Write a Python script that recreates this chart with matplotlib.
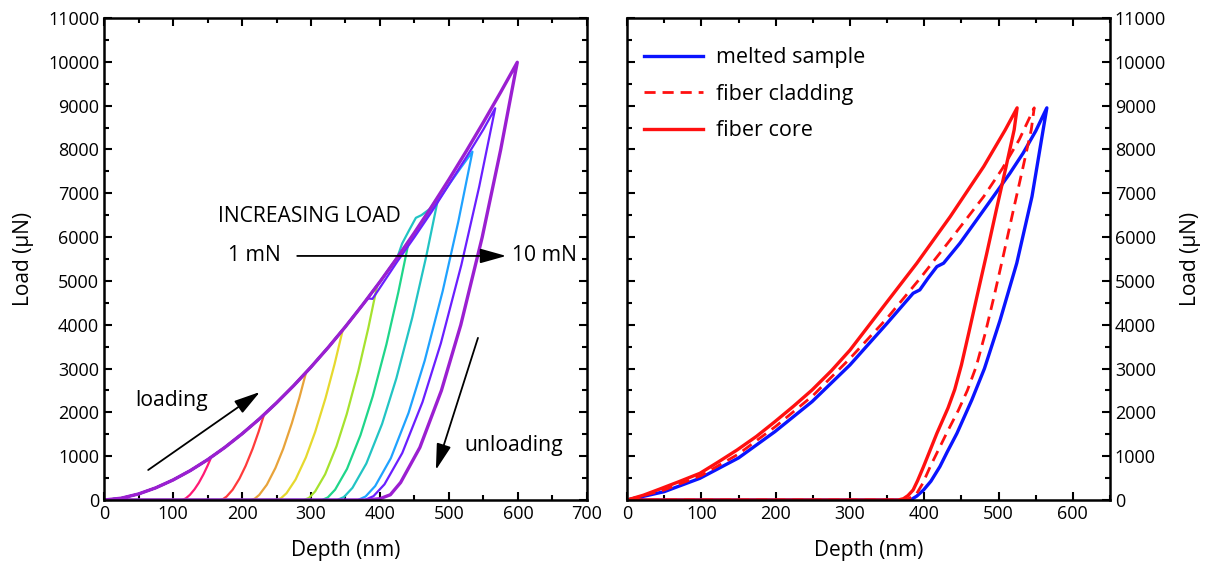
import matplotlib
matplotlib.use("Agg")
import matplotlib.pyplot as plt
from matplotlib.ticker import MultipleLocator

plt.rcParams['font.family'] = ['Open Sans', 'DejaVu Sans']

# ---- left: cyclic indentation 1..10 mN (depth nm, load uN) ----
load_depth = [0, 25, 50, 75, 100, 125, 150, 175, 200, 225, 250, 275, 300,
              325, 350, 375, 400, 425, 450, 475, 500, 525, 550, 575, 599]
load_force = [0, 42, 138, 278, 457, 671, 919, 1199, 1510, 1848, 2217, 2612, 3035,
              3483, 3958, 4458, 4982, 5530, 6103, 6698, 7317, 7960, 8624, 9310, 9990]

cycle_colors = ['#ff1a75', '#ff3b3b', '#e8a33a', '#e6d92e', '#a6e22e',
                '#1fd68a', '#22c4c4', '#1fa2ff', '#6a1fff', '#9b1fd1']

# loading points that leave the main curve (pop-ins / offset)
tail_depth = [[], [], [], [], [], [],
              [432, 442, 452, 460, 472],
              [450, 475, 500, 517],
              [383, 389, 398, 425, 450, 475, 500, 525, 550],
              []]
tail_force = [[], [], [], [], [], [],
              [5850, 6150, 6440, 6500, 6640],
              [6050, 6620, 7200, 7580],
              [4600, 4590, 4800, 5440, 6000, 6580, 7200, 7820, 8460],
              []]

# unloading branches, from peak down to zero load
unload_depth = [
    [155.5, 150.1, 144.2, 137.4, 131.2, 124.5, 118.6, 114.9, 112],
    [232, 224.1, 215.4, 205.3, 196.3, 186.4, 177.6, 172.3, 168],
    [293, 283.2, 272.2, 259.7, 248.4, 236.0, 225.0, 218.3, 213],
    [346, 334.2, 321.1, 306.0, 292.5, 277.6, 264.5, 256.4, 250],
    [396, 383.0, 368.5, 351.8, 336.9, 320.5, 306.0, 297.1, 290],
    [442, 426.5, 409.3, 389.5, 371.7, 352.2, 335.0, 324.4, 316],
    [485, 466.9, 446.8, 423.7, 403.0, 380.2, 360.1, 347.8, 338],
    [534, 513.6, 490.9, 464.8, 441.4, 415.7, 393.0, 379.1, 368],
    [567, 543.8, 517.9, 488.2, 461.6, 432.3, 406.5, 390.6, 378],
    [599, 574.9, 548.1, 517.1, 489.0, 457.8, 429.9, 415, 400, 381],
]
unload_force = [
    [980, 784, 588, 392, 245, 118, 39, 10, 0],
    [1950, 1560, 1170, 780, 488, 234, 78, 20, 0],
    [2920, 2336, 1752, 1168, 730, 350, 117, 29, 0],
    [3880, 3104, 2328, 1552, 970, 466, 155, 39, 0],
    [4900, 3920, 2940, 1960, 1225, 588, 196, 49, 0],
    [5920, 4736, 3552, 2368, 1480, 710, 237, 59, 0],
    [6940, 5552, 4164, 2776, 1735, 833, 278, 69, 0],
    [7950, 6360, 4770, 3180, 1988, 954, 318, 80, 0],
    [8940, 7152, 5364, 3576, 2235, 1073, 358, 89, 0],
    [9990, 7992, 5994, 3996, 2498, 1199, 400, 120, 30, 0],
]

# ---- right: melted sample vs fiber ----
melted_load_h = [0, 50, 98, 150, 199, 249, 300, 350, 385, 394, 405, 417, 426,
                 448, 470, 493, 515, 533, 550, 565]
melted_load_p = [0, 190, 495, 960, 1560, 2245, 3082, 4033, 4718, 4795, 5060, 5327, 5404,
                 5860, 6380, 6925, 7450, 7915, 8420, 8950]
melted_unload_h = [565, 560, 545, 524.5, 502, 481, 464, 444, 431, 421, 409, 399, 390, 383, 375]
melted_unload_p = [8950, 8447, 6925, 5404, 4100, 3000, 2283, 1522, 1100, 761, 430, 228, 90, 15, 0]

clad_load_h = [0, 50, 100, 150, 200, 250, 300, 350, 394, 435, 480, 505, 528, 548]
clad_load_p = [0, 230, 560, 1050, 1680, 2380, 3230, 4150, 5050, 5936, 6925, 7560, 8230, 8950]
clad_unload_h = [548, 544, 533, 520, 507, 494, 482, 470, 458, 446, 430, 408, 398, 390, 378, 370]
clad_unload_p = [8950, 8447, 7600, 6620, 5620, 4650, 3800, 3050, 2500, 2050, 1522, 761, 380, 152, 20, 0]

core_load_h = [0, 22, 44, 70, 98, 122, 148, 174, 199, 224, 249, 275, 300, 345, 390, 435, 480, 509, 525]
core_load_p = [0, 110, 250, 420, 609, 860, 1141, 1450, 1788, 2140, 2511, 2950, 3420, 4414, 5404,
               6468, 7610, 8447, 8950]
core_unload_h = [525, 521, 510, 497, 484, 471, 460, 450, 441, 432, 417, 399, 391, 385, 378, 372, 365]
core_unload_p = [8950, 8447, 7600, 6620, 5620, 4650, 3820, 3080, 2520, 2100, 1522, 761, 440, 228, 100, 30, 0]


def style_axes(ax, xmax, xstep):
    ax.set_xlim(0, xmax)
    ax.set_ylim(0, 11000)
    ax.xaxis.set_major_locator(MultipleLocator(xstep))
    ax.xaxis.set_minor_locator(MultipleLocator(xstep / 2))
    ax.yaxis.set_major_locator(MultipleLocator(1000))
    ax.yaxis.set_minor_locator(MultipleLocator(500))
    ax.tick_params(which='both', direction='in', top=True, right=True, left=True,
                   labelsize=13, width=1.5)
    ax.tick_params(which='major', length=6)
    ax.tick_params(which='minor', length=3.5)
    for sp in ax.spines.values():
        sp.set_linewidth(1.8)
    ax.set_xlabel('Depth (nm)', fontsize=15, labelpad=12)
    ax.set_ylabel('Load (µN)', fontsize=15, labelpad=10)


fig = plt.figure(figsize=(12.11, 5.68), dpi=100)
ax1 = fig.add_axes([0.0859, 0.1197, 0.3988, 0.8486])
ax2 = fig.add_axes([0.5178, 0.1197, 0.3988, 0.8486])

# left panel
for i, color in enumerate(cycle_colors):
    first = tail_depth[i][0] if tail_depth[i] else unload_depth[i][0]
    hs = [h for h in load_depth if h < first] + tail_depth[i] + unload_depth[i] + [0]
    ps = [p for h, p in zip(load_depth, load_force) if h < first] + tail_force[i] + unload_force[i] + [0]
    lw = 2.4 if i == 9 else 1.6
    ax1.plot(hs, ps, color=color, lw=lw)

style_axes(ax1, 700, 100)

arrow = dict(arrowstyle='-|>,head_length=1.0,head_width=0.28', mutation_scale=16,
             lw=1.3, color='black', shrinkA=0, shrinkB=0)
fs = 15.2
ax1.text(165, 6460, 'INCREASING LOAD', fontsize=fs, va='center')
ax1.text(180, 5570, '1 mN', fontsize=fs, va='center')
ax1.annotate('', xy=(583, 5570), xytext=(280, 5570), arrowprops=arrow)
ax1.text(591, 5570, '10 mN', fontsize=fs, va='center')
ax1.text(45, 2260, 'loading', fontsize=fs, va='center')
ax1.annotate('', xy=(226, 2466), xytext=(64, 685), arrowprops=arrow)
ax1.text(523, 1233, 'unloading', fontsize=fs, va='center')
ax1.annotate('', xy=(481, 685), xytext=(542, 3700), arrowprops=arrow)

# right panel
ax2.plot(melted_load_h + melted_unload_h + [0], melted_load_p + melted_unload_p + [0],
         color='#0a14ff', lw=2.4, label='melted sample')
ax2.plot(clad_load_h + clad_unload_h + [0], clad_load_p + clad_unload_p + [0],
         color='#ff1010', lw=2.0, dashes=(4, 2.5), label='fiber cladding')
ax2.plot(core_load_h + core_unload_h + [0], core_load_p + core_unload_p + [0],
         color='#ff1010', lw=2.4, label='fiber core')

style_axes(ax2, 650, 100)
ax2.yaxis.tick_right()
ax2.yaxis.set_label_position('right')
ax2.tick_params(which='both', left=True, right=True, labelleft=False, labelright=True)
ax2.legend(loc='upper left', frameon=False, fontsize=15.5, handlelength=2.75,
           handletextpad=0.6, borderaxespad=0.4, labelspacing=0.72,
           bbox_to_anchor=(0.0, 0.975))

fig.savefig('out.png', dpi=100)
